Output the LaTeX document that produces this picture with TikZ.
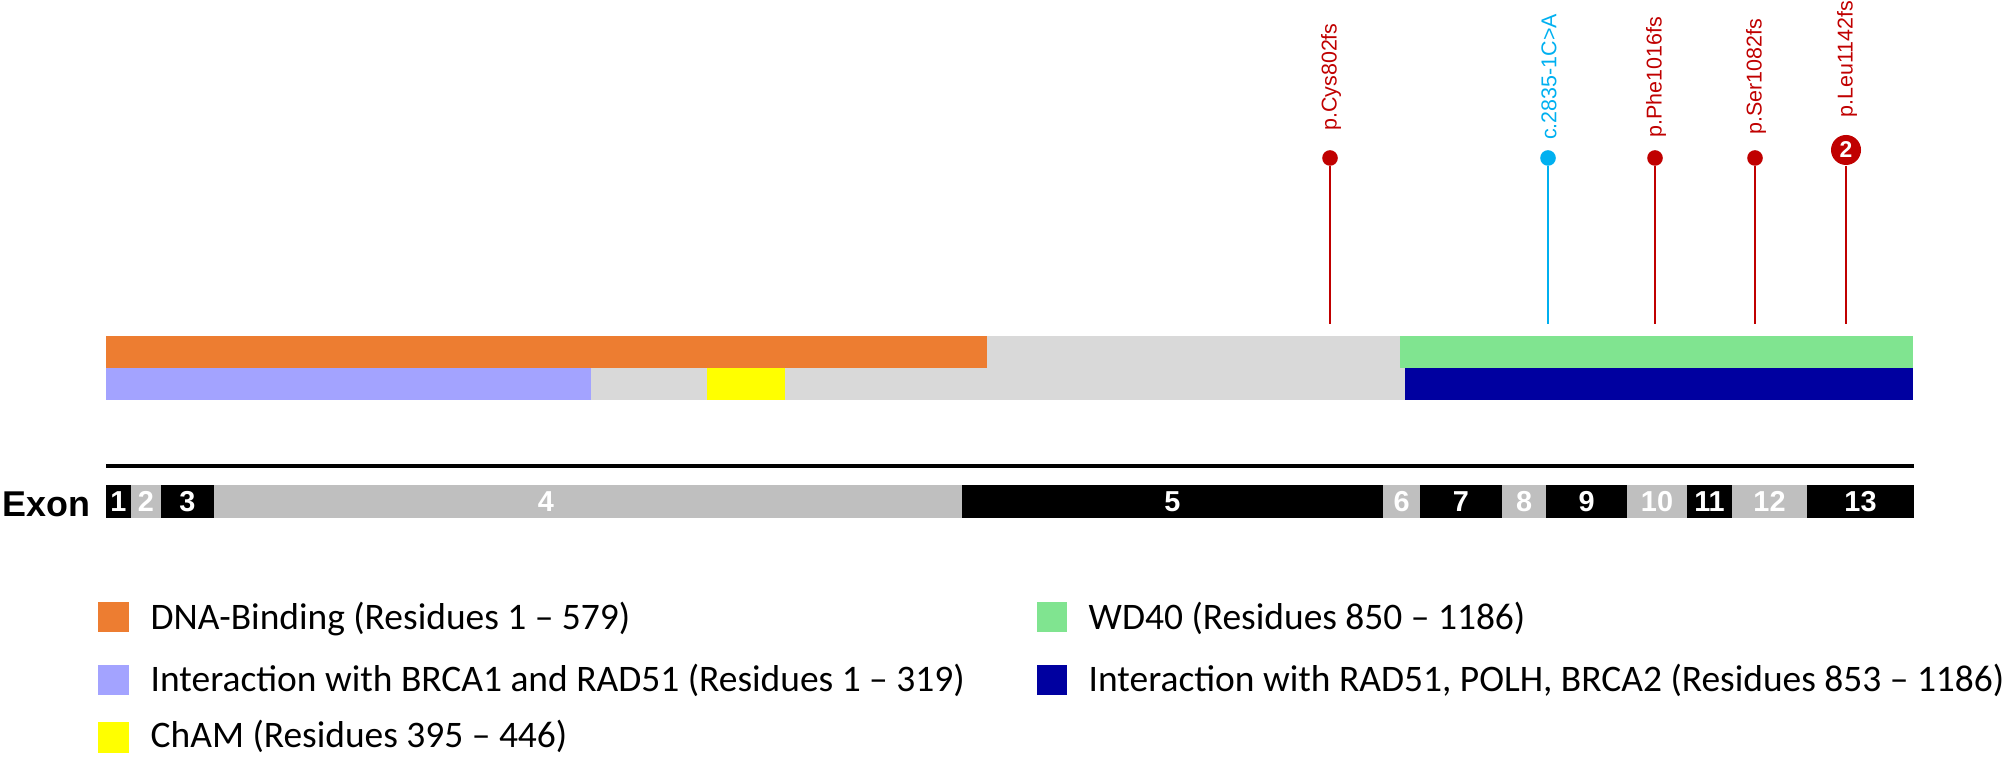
\documentclass[tikz,border=0pt]{standalone}
\usepackage{fontspec}
\setmainfont{Liberation Sans}
\newfontfamily\legendfont{Carlito}
\usetikzlibrary{positioning}
\definecolor{dnaorange}{HTML}{ED7D31}
\definecolor{brcaviolet}{HTML}{A3A3FF}
\definecolor{chamyellow}{HTML}{FFFF00}
\definecolor{wdgreen}{HTML}{80E490}
\definecolor{polnavy}{HTML}{0000A0}
\definecolor{restgray}{HTML}{D9D9D9}
\definecolor{exongray}{HTML}{BFBFBF}
\definecolor{fsred}{HTML}{C00000}
\definecolor{spliceblue}{HTML}{00B0F0}

\begin{document}
\begin{tikzpicture}[
    x=0.01cm, y=-0.01cm,
    exonnum/.style={text=white, font=\bfseries\fontsize{8.2}{9}\selectfont, inner sep=0pt},
    muthead/.style={circle, inner sep=0pt, minimum size=0.156cm},
    mutlabel/.style={rotate=90, inner sep=0pt, font=\fontsize{6.1}{7}\selectfont},
    stem/.style={line width=0.57pt},
    legkey/.style={minimum width=0.30cm, minimum height=0.30cm, inner sep=0pt},
    legtext/.style={anchor=base west, inner sep=0pt, font=\legendfont\fontsize{10.65}{12}\selectfont}
]
    \useasboundingbox (0,0) rectangle (2006,762);

    % Domänenbalken
    \fill[dnaorange] (106,336) rectangle (987,368);
    \fill[restgray] (987,336) rectangle (1400,368);
    \fill[wdgreen] (1400,336) rectangle (1913,368);
    \fill[brcaviolet] (106,368) rectangle (591,400);
    \fill[restgray] (591,368) rectangle (707,400);
    \fill[chamyellow] (707,368) rectangle (785,400);
    \fill[restgray] (785,368) rectangle (1405,400);
    \fill[polnavy] (1405,368) rectangle (1913,400);

    % Mutationen
    \node[muthead, fill=fsred] (hcys) at (1330,158) {};
    \node[muthead, fill=spliceblue] (hsplice) at (1548,158) {};
    \node[muthead, fill=fsred] (hphe) at (1655,158) {};
    \node[muthead, fill=fsred] (hser) at (1755,158) {};
    \node[circle, fill=fsred, inner sep=0pt, minimum size=0.30cm, text=white,
          font=\bfseries\fontsize{6.5}{7}\selectfont] (hleu) at (1846,150) {2};

    \coordinate (bcys) at (1330,324);
    \coordinate (bsplice) at (1548,324);
    \coordinate (bphe) at (1655,324);
    \coordinate (bser) at (1755,324);
    \coordinate (bleu) at (1846,324);

    \draw[stem, fsred] (hcys) -- (bcys);
    \draw[stem, spliceblue] (hsplice) -- (bsplice);
    \draw[stem, fsred] (hphe) -- (bphe);
    \draw[stem, fsred] (hser) -- (bser);
    \draw[stem, fsred] (hleu) -- (bleu);

    \node[mutlabel, text=fsred] (lcys) at (1331,77) {p.Cys802fs};
    \node[mutlabel, text=spliceblue] (lsplice) at (1549,77) {c.2835-1C>A};
    \node[mutlabel, text=fsred] (lphe) at (1656,77) {p.Phe1016fs};
    \node[mutlabel, text=fsred] (lser) at (1756,77) {p.Ser1082fs};
    \node[mutlabel, text=fsred] (lleu) at (1847,59) {p.Leu1142fs};

    % Achse und Exons
    \coordinate (axl) at (106,466);
    \coordinate (axr) at (1914,466);
    \draw[line width=0.04cm] (axl) -- (axr);

    \node[anchor=base east, inner sep=0pt, font=\bfseries\fontsize{10.2}{11}\selectfont] (exlab) at (91,517) {Exon};
    \foreach \xa/\xb/\xl/\num/\col in {106/131/118.5/1/black, 131/161/146/2/exongray, 161/214/187.5/3/black,
        214/962/546/4/exongray, 962/1383/1172.5/5/black, 1383/1420/1401.5/6/exongray, 1420/1502/1461/7/black,
        1502/1546/1524/8/exongray, 1546/1627/1586.5/9/black, 1627/1687/1657/10/exongray, 1687/1732/1709.5/11/black,
        1732/1807/1769.5/12/exongray, 1807/1914/1860.5/13/black} {
        \fill[\col] (\xa,485) rectangle (\xb,518);
        \node[exonnum] (ex\num) at (\xl,501.5) {\num};
    }

    % Legende
    \node[legkey, fill=dnaorange] (kdna) at (113.5,617) {};
    \node[legkey, fill=brcaviolet] (kbrca) at (113.5,680) {};
    \node[legkey, fill=chamyellow] (kcham) at (113.5,737.5) {};
    \node[legkey, fill=wdgreen] (kwd) at (1052,617) {};
    \node[legkey, fill=polnavy] (kpol) at (1052,680) {};

    \node[legtext] (tdna) at (150,630) {DNA-Binding (Residues 1 – 579)};
    \node[legtext] (tbrca) at (150,692) {Interaction with BRCA1 and RAD51 (Residues 1 – 319)};
    \node[legtext] (tcham) at (150,748) {ChAM (Residues 395 – 446)};
    \node[legtext] (twd) at (1088,630) {WD40 (Residues 850 – 1186)};
    \node[legtext] (tpol) at (1088,692) {Interaction with RAD51, POLH, BRCA2 (Residues 853 – 1186)};
\end{tikzpicture}
\end{document}
